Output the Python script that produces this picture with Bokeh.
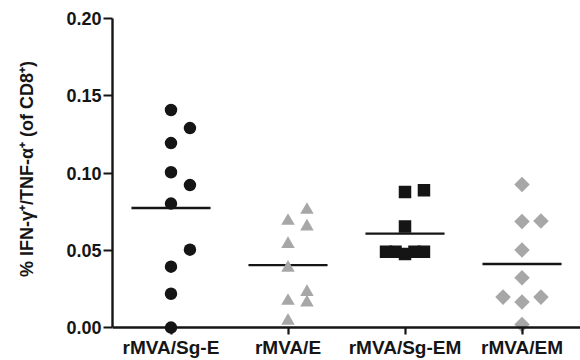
import numpy as np
from bokeh.plotting import figure
from bokeh.models import Range1d, FixedTicker, Span, NumeralTickFormatter
from bokeh.embed import file_html
from bokeh.resources import INLINE

# ---- data ----
groups = ["rMVA/Sg-E", "rMVA/E", "rMVA/Sg-EM", "rMVA/EM"]
sg_e = [0.0, 0.0219, 0.0394, 0.0504, 0.0802, 0.0922, 0.1005, 0.1194, 0.1291, 0.1408]
e_only = [0.0043, 0.0172, 0.0161, 0.0229, 0.0386, 0.0540, 0.0690, 0.0761, 0.0654]
sg_em = [0.0476, 0.0491, 0.0491, 0.0491, 0.0491, 0.0654, 0.0877, 0.0889]
em_only = [0.0019, 0.0165, 0.0197, 0.0197, 0.0322, 0.0502, 0.0686, 0.0690, 0.0926]
y_ticks = [0.0, 0.05, 0.10, 0.15, 0.20]
y_label = "% IFN-\u03b3\u207a/TNF-\u03b1\u207a (of CD8\u207a)"

FONT = "Liberation Sans"
INK = "#151515"
GREY = "#a7a7a7"


def column_slots(vals, gap=0.0125):
    """GraphPad-like column scatter: points whose values fall in the same
    row are spread sideways, in order of appearance: centre, right, left."""
    order = sorted(range(len(vals)), key=lambda i: vals[i])
    rows = []
    for i in order:
        if rows and vals[i] - vals[rows[-1][0]] <= gap:
            rows[-1].append(i)
        else:
            rows.append([i])
    slots = [0.0] * len(vals)
    for row in rows:
        row = sorted(row)
        k = len(row)
        if k <= 3:
            pos = [0.0, 1.0, -1.0][:k]
        else:
            pos = sorted(np.linspace(-1, 1, k), key=lambda v: (abs(v), -v))
        for i, s in zip(row, pos):
            slots[i] = float(s)
    return slots


p = figure(width=580, height=360, output_backend="svg", toolbar_location=None,
           x_range=Range1d(0.5, 4.5), y_range=Range1d(-0.0045, 0.2),
           min_border_left=112, min_border_right=0, min_border_top=18,
           min_border_bottom=24)
p.outline_line_color = None
p.xgrid.visible = False
p.ygrid.visible = False
p.background_fill_color = "white"
p.border_fill_color = "white"

STEP = 0.162
series = [
    (sg_e, dict(marker="circle", size=12.5, color=INK)),
    (e_only, dict(marker="triangle", size=13.5, color=GREY)),
    (sg_em, dict(marker="square", size=12.5, color=INK)),
    (em_only, dict(marker="square", size=11, color=GREY, angle=np.pi / 4)),
]

HALF = 0.338
for gi, (vals, style) in enumerate(series):
    center = gi + 1
    slots = column_slots(vals)
    xs = [center + s * STEP for s in slots]
    m = float(np.mean(vals))
    p.segment(x0=[center - HALF], x1=[center + HALF], y0=[m], y1=[m],
              line_color=INK, line_width=2.4)
    p.scatter(x=xs, y=vals, line_color=None, fill_color=style["color"],
              marker=style["marker"], size=style["size"],
              angle=style.get("angle", 0.0))

# x axis line at y = 0
p.add_layout(Span(location=0, dimension="width", line_color=INK, line_width=2.4))

# y axis
p.yaxis.bounds = (0, 0.2)
p.yaxis.ticker = FixedTicker(ticks=y_ticks)
p.yaxis.formatter = NumeralTickFormatter(format="0.00")
p.yaxis.axis_line_width = 2.4
p.yaxis.axis_line_color = INK
p.yaxis.major_tick_line_width = 2.2
p.yaxis.major_tick_line_color = INK
p.yaxis.major_tick_out = 9
p.yaxis.major_tick_in = 0
p.yaxis.minor_tick_line_color = None
p.yaxis.major_label_standoff = 2
p.yaxis.major_label_text_font = FONT
p.yaxis.major_label_text_font_style = "bold"
p.yaxis.major_label_text_font_size = "18px"
p.yaxis.major_label_text_color = INK
p.yaxis.axis_label = "\u00a0\u00a0\u00a0" + y_label
p.yaxis.axis_label_text_font = FONT
p.yaxis.axis_label_text_font_style = "bold"
p.yaxis.axis_label_text_font_size = "18px"
p.yaxis.axis_label_text_color = INK
p.yaxis.axis_label_standoff = 26

# x axis
p.xaxis.ticker = FixedTicker(ticks=[1, 2, 3, 4])
p.xaxis.major_label_overrides = {i + 1: g for i, g in enumerate(groups)}
p.xaxis.axis_line_color = None
p.xaxis.major_tick_in = 7
p.xaxis.major_tick_out = 0
p.xaxis.major_tick_line_width = 2.2
p.xaxis.major_tick_line_color = INK
p.xaxis.minor_tick_line_color = None
p.xaxis.major_label_standoff = 2
p.xaxis.major_label_text_font = FONT
p.xaxis.major_label_text_font_style = "bold"
p.xaxis.major_label_text_font_size = "19px"
p.xaxis.major_label_text_color = INK

open("out.html", "w").write(file_html(p, INLINE))
